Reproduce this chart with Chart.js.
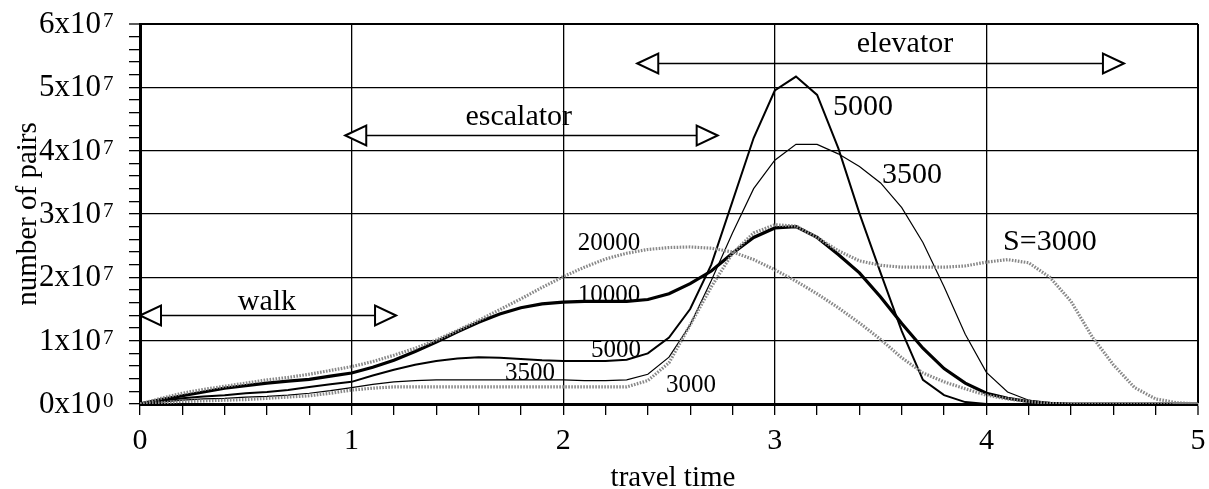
<!DOCTYPE html>
<html>
<head>
<meta charset="utf-8">
<script src="https://cdn.jsdelivr.net/npm/chart.js@4.4.1/dist/chart.umd.min.js"></script>
<style>
  html, body { margin: 0; padding: 0; background: #fff; }
  #wrap { width: 1209px; height: 489px; }
</style>
</head>
<body>
<div id="wrap"><canvas id="pairsCanvas"></canvas></div>
<script>
// values are in units of 10^7 pairs
const SCALE = 1e7;

const travelTime = [0, 0.1, 0.2, 0.3, 0.4, 0.5, 0.6, 0.7, 0.8, 0.9,
  1.0, 1.1, 1.2, 1.3, 1.4, 1.5, 1.6, 1.7, 1.8, 1.9,
  2.0, 2.1, 2.2, 2.3, 2.4, 2.5, 2.6, 2.7, 2.8, 2.9,
  3.0, 3.1, 3.2, 3.3, 3.4, 3.5, 3.6, 3.7, 3.8, 3.9,
  4.0, 4.1, 4.2, 4.3, 4.4, 4.5, 4.6, 4.7, 4.8, 4.9, 5.0];

const pairs20000 = [0, 0.09, 0.17, 0.23, 0.28, 0.33, 0.38, 0.42, 0.47, 0.53,
  0.59, 0.67, 0.77, 0.88, 1.01, 1.16, 1.32, 1.49, 1.66, 1.84,
  2.01, 2.16, 2.29, 2.38, 2.44, 2.47, 2.48, 2.46, 2.40, 2.28,
  2.12, 1.94, 1.74, 1.52, 1.28, 1.02, 0.73, 0.49, 0.35, 0.24,
  0.14, 0.08, 0.04, 0.01, 0, 0, 0, 0, 0, 0, 0];

const pairs10000 = [0, 0.07, 0.13, 0.19, 0.25, 0.29, 0.33, 0.36, 0.39, 0.44,
  0.49, 0.58, 0.69, 0.83, 0.98, 1.14, 1.29, 1.42, 1.52, 1.58,
  1.61, 1.62, 1.62, 1.62, 1.65, 1.74, 1.90, 2.10, 2.38, 2.63,
  2.78, 2.80, 2.63, 2.36, 2.07, 1.69, 1.27, 0.88, 0.56, 0.33,
  0.17, 0.09, 0.04, 0.01, 0, 0, 0, 0, 0, 0, 0];

const pairs5000 = [0, 0.05, 0.09, 0.12, 0.14, 0.17, 0.19, 0.22, 0.27, 0.31,
  0.35, 0.45, 0.54, 0.62, 0.68, 0.72, 0.74, 0.73, 0.71, 0.69,
  0.68, 0.68, 0.68, 0.70, 0.80, 1.05, 1.50, 2.20, 3.20, 4.20,
  4.95, 5.17, 4.88, 4.04, 3.01, 2.07, 1.15, 0.38, 0.14, 0.03,
  0, 0, 0, 0, 0, 0, 0, 0, 0, 0, 0];

const pairs3500 = [0, 0.03, 0.06, 0.08, 0.09, 0.11, 0.12, 0.14, 0.17, 0.21,
  0.26, 0.31, 0.35, 0.37, 0.38, 0.38, 0.38, 0.38, 0.38, 0.38,
  0.38, 0.37, 0.37, 0.38, 0.47, 0.74, 1.25, 1.95, 2.70, 3.40,
  3.85, 4.10, 4.10, 3.95, 3.75, 3.49, 3.10, 2.55, 1.85, 1.10,
  0.50, 0.19, 0.06, 0.01, 0, 0, 0, 0, 0, 0, 0];

const pairs3000 = [0, 0.02, 0.04, 0.05, 0.06, 0.07, 0.09, 0.11, 0.13, 0.17,
  0.22, 0.25, 0.27, 0.27, 0.27, 0.27, 0.27, 0.27, 0.27, 0.27,
  0.27, 0.27, 0.27, 0.27, 0.37, 0.65, 1.25, 1.85, 2.38, 2.70,
  2.83, 2.81, 2.63, 2.42, 2.26, 2.19, 2.16, 2.16, 2.16, 2.18,
  2.24, 2.28, 2.23, 2.00, 1.62, 1.06, 0.62, 0.26, 0.08, 0.02, 0];

// y tick labels: mantissa x 10^exponent
const yTickValues = [0, 1, 2, 3, 4, 5, 6];
const yTickMantissa = ["0", "1", "2", "3", "4", "5", "6"];
const yTickExponent = ["0", "7", "7", "7", "7", "7", "7"];

// double arrows: travel time range and level (10^7)
const arrowText = ["walk", "escalator", "elevator"];
const arrowFrom = [0, 0.97, 2.35];
const arrowTo = [1.21, 2.73, 4.65];
const arrowLevel = [1.405, 4.25, 5.39];
const arrowTextX = [0.6, 1.79, 3.615];
const arrowTextY = [1.484, 4.405, 5.558];

// curve labels
const curveText = ["20000", "10000", "5000", "3500", "3000", "5000", "3500", "S=3000"];
const curveTextX = [2.216, 2.216, 2.25, 1.843, 2.604, 3.417, 3.648, 4.30];
const curveTextY = [2.43, 1.61, 0.742, 0.379, 0.19, 4.563, 3.49, 2.43];
const curveTextBig = [false, false, false, false, false, true, true, true];

const SERIF = '"Liberation Serif", "Times New Roman", serif';

function toPoints(values) {
  return travelTime.map((t, i) => ({ x: t, y: values[i] * SCALE }));
}

function isWhole(v, step) {
  const r = v / step;
  return Math.abs(r - Math.round(r)) < 1e-6;
}

function drawHead(ctx, tipX, tipY, dir) {
  ctx.beginPath();
  ctx.moveTo(tipX, tipY);
  ctx.lineTo(tipX - dir * 21, tipY - 10);
  ctx.lineTo(tipX - dir * 21, tipY + 10);
  ctx.closePath();
  ctx.fillStyle = "#fff";
  ctx.fill();
  ctx.lineWidth = 2;
  ctx.strokeStyle = "#000";
  ctx.stroke();
}

const textPlugin = {
  id: "textPlugin",
  afterDraw(chart) {
    const { ctx, chartArea, scales: { x, y } } = chart;
    ctx.save();
    ctx.fillStyle = "#000";

    // y tick labels with superscript exponent
    yTickValues.forEach((v, i) => {
      const py = y.getPixelForValue(v * SCALE);
      ctx.font = "31px " + SERIF;
      ctx.textAlign = "right";
      ctx.textBaseline = "middle";
      ctx.fillText(yTickMantissa[i] + "x10", chartArea.left - 39, py + 1);
      ctx.font = "21px " + SERIF;
      ctx.textAlign = "left";
      ctx.textBaseline = "alphabetic";
      ctx.fillText(yTickExponent[i], chartArea.left - 37, py + 3);
    });

    // axis titles
    ctx.font = "29px " + SERIF;
    ctx.textAlign = "center";
    ctx.textBaseline = "alphabetic";
    ctx.fillText("travel time", (chartArea.left + chartArea.right) / 2 + 4, 486);
    ctx.save();
    ctx.translate(36, (chartArea.top + chartArea.bottom) / 2);
    ctx.rotate(-Math.PI / 2);
    ctx.fillText("number of pairs", 0, 0);
    ctx.restore();

    // double arrows
    arrowText.forEach((label, i) => {
      const x1 = x.getPixelForValue(arrowFrom[i]);
      const x2 = x.getPixelForValue(arrowTo[i]);
      const py = Math.round(y.getPixelForValue(arrowLevel[i] * SCALE)) + 0.5;
      ctx.beginPath();
      ctx.moveTo(x1 + 21, py);
      ctx.lineTo(x2 - 21, py);
      ctx.lineWidth = 1.5;
      ctx.strokeStyle = "#000";
      ctx.stroke();
      drawHead(ctx, x1, py, -1);
      drawHead(ctx, x2, py, 1);
      ctx.fillStyle = "#000";
      ctx.font = "30px " + SERIF;
      ctx.textAlign = "center";
      ctx.fillText(label, x.getPixelForValue(arrowTextX[i]), y.getPixelForValue(arrowTextY[i] * SCALE));
    });

    // curve labels
    curveText.forEach((label, i) => {
      ctx.font = (curveTextBig[i] ? "30px " : "25px ") + SERIF;
      ctx.textAlign = "center";
      ctx.fillText(label, x.getPixelForValue(curveTextX[i]), y.getPixelForValue(curveTextY[i] * SCALE));
    });
    ctx.restore();
  }
};

const dotted = { borderColor: "#888", borderWidth: 3.2, borderDash: [1.6, 1.4] };

new Chart(document.getElementById("pairsCanvas"), {
  type: "line",
  data: {
    datasets: [
      { label: "20000", data: toPoints(pairs20000), ...dotted },
      { label: "3000", data: toPoints(pairs3000), ...dotted },
      { label: "3500", data: toPoints(pairs3500), borderColor: "#000", borderWidth: 1.2 },
      { label: "5000", data: toPoints(pairs5000), borderColor: "#000", borderWidth: 2 },
      { label: "10000", data: toPoints(pairs10000), borderColor: "#000", borderWidth: 3.2 },
    ],
  },
  options: {
    responsive: true,
    maintainAspectRatio: false,
    animation: false,
    events: [],
    layout: { padding: { top: 24, right: 11, left: 0, bottom: 0 } },
    elements: { point: { radius: 0 }, line: { tension: 0, fill: false } },
    plugins: { legend: { display: false }, tooltip: { enabled: false } },
    scales: {
      x: {
        type: "linear",
        min: 0,
        max: 5,
        afterFit(scale) {
          scale.height = 85;
          scale.paddingLeft = 0;
          scale.paddingRight = 0;
        },
        border: { display: true, color: "#000", width: 3 },
        grid: {
          color: (c) => (isWhole(c.tick.value, 1) ? "#000" : "rgba(0,0,0,0)"),
          lineWidth: (c) => (c.tick.value === 5 ? 2 : 1.3),
          tickColor: "#000",
          tickLength: 11,
          tickWidth: 1.3,
        },
        ticks: {
          stepSize: 0.2,
          autoSkip: false,
          maxRotation: 0,
          padding: 8,
          color: "#000",
          font: { family: SERIF, size: 30 },
          callback: (v) => (isWhole(v, 1) ? String(Math.round(v)) : ""),
        },
      },
      y: {
        min: 0,
        max: 6 * SCALE,
        afterFit(scale) {
          scale.width = 140;
          scale.paddingTop = 0;
          scale.paddingBottom = 0;
        },
        border: { display: true, color: "#000", width: 3 },
        grid: {
          color: (c) => (isWhole(c.tick.value, SCALE) ? "#000" : "rgba(0,0,0,0)"),
          lineWidth: (c) => (c.tick.value === 6 * SCALE ? 2 : 1.3),
          tickColor: "#000",
          tickLength: 11,
          tickWidth: 1.3,
        },
        ticks: {
          stepSize: 0.2 * SCALE,
          autoSkip: false,
          display: false,
        },
      },
    },
  },
  plugins: [textPlugin],
});
</script>
</body>
</html>
